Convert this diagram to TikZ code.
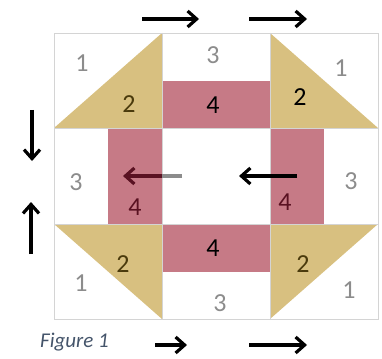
\documentclass[tikz,border=0pt]{standalone}
\usepackage{fontspec}
\setmainfont{Carlito}
\usetikzlibrary{arrows.meta}

\definecolor{patchtan}{HTML}{D8C080}
\definecolor{patchrose}{HTML}{C67A86}
\definecolor{seamgray}{HTML}{D4D4D4}
\definecolor{numgray}{HTML}{8C8C8C}
\definecolor{numbrown}{HTML}{4A3A0C}
\definecolor{numwine}{HTML}{5A1222}
\definecolor{captionblue}{HTML}{44546A}

\begin{document}
\begin{tikzpicture}[
    x=1pt, y=-1pt,
    halftri/.style={fill=patchtan},
    strip/.style={fill=patchrose},
    seam/.style={draw=seamgray, line width=0.7pt},
    num/.style={font=\fontsize{26}{26}\selectfont, text=numgray, inner sep=0pt},
    turn/.style={-{Straight Barb[length=9pt,width=16pt,line width=3.2pt]}, line width=3.2pt}
]

\useasboundingbox (0,0) rectangle (382,358);

% Block corners
\coordinate (nw) at (54,33);
\coordinate (se) at (378,319);

% Half-square triangles
\fill[halftri] (54,128) -- (162,33) -- (162,128) -- cycle;
\fill[halftri] (270,33) -- (270,128) -- (378,128) -- cycle;
\fill[halftri] (54,224) -- (162,224) -- (162,319) -- cycle;
\fill[halftri] (270,224) -- (378,224) -- (270,319) -- cycle;

% Strips
\fill[strip] (162,81) rectangle (270,128);
\fill[strip] (162,224) rectangle (270,272);
\fill[strip] (108,128) rectangle (162,224);
\fill[strip] (270,128) rectangle (324,224);

% Seams
\draw[seam] (nw) rectangle (se);
\draw[seam] (162,33) -- (162,319);
\draw[seam] (270,33) -- (270,319);
\draw[seam] (54,128) -- (378,128);
\draw[seam] (54,224) -- (378,224);

% Piece numbers
\node[num] (tl1) at (82,63) {1};
\node[num, text=numbrown] (tl2) at (129,104) {2};
\node[num] (tm3) at (213,55) {3};
\node[num, text=black] (tm4) at (213,105) {4};
\node[num] (tr1) at (341,68) {1};
\node[num, text=black] (tr2) at (300,97) {2};
\node[num] (ml3) at (76,182) {3};
\node[num, text=numwine] (ml4) at (135,207) {4};
\node[num, text=numwine] (mr4) at (285,202) {4};
\node[num] (mr3) at (351,181) {3};
\node[num, text=numbrown] (bl2) at (123,264) {2};
\node[num] (bl1) at (81,283) {1};
\node[num, text=black] (bm4) at (213,248) {4};
\node[num] (bm3) at (220,303) {3};
\node[num, text=numbrown] (br2) at (303,264) {2};
\node[num] (br1) at (349,290) {1};

% Sewing order arrows
\coordinate (ta1) at (142,19);  \coordinate (tb1) at (199,19);
\coordinate (ta2) at (249,19);  \coordinate (tb2) at (307,19);
\coordinate (la1) at (32,110);  \coordinate (lb1) at (32,161);
\coordinate (la2) at (31,254);  \coordinate (lb2) at (31,202);
\coordinate (ca1) at (182,176); \coordinate (cm1) at (162,176); \coordinate (cb1) at (123,176);
\coordinate (ca2) at (297,176); \coordinate (cb2) at (239,176);
\coordinate (ba1) at (155,345); \coordinate (bb1) at (187,345);
\coordinate (ba2) at (249,345); \coordinate (bb2) at (307,345);

\draw[turn] (ta1) -- (tb1);
\draw[turn] (ta2) -- (tb2);
\draw[turn] (la1) -- (lb1);
\draw[turn] (la2) -- (lb2);
\draw[line width=3.2pt, draw=numgray] (ca1) -- (cm1);
\draw[turn, draw=numwine] (cm1) -- (cb1);
\draw[turn] (ca2) -- (cb2);
\draw[turn] (ba1) -- (bb1);
\draw[turn] (ba2) -- (bb2);

% Caption
\node[font=\fontsize{21}{21}\selectfont\itshape, text=captionblue, anchor=west, inner sep=0pt] (caption) at (40,342) {Figure 1};

\end{tikzpicture}
\end{document}
